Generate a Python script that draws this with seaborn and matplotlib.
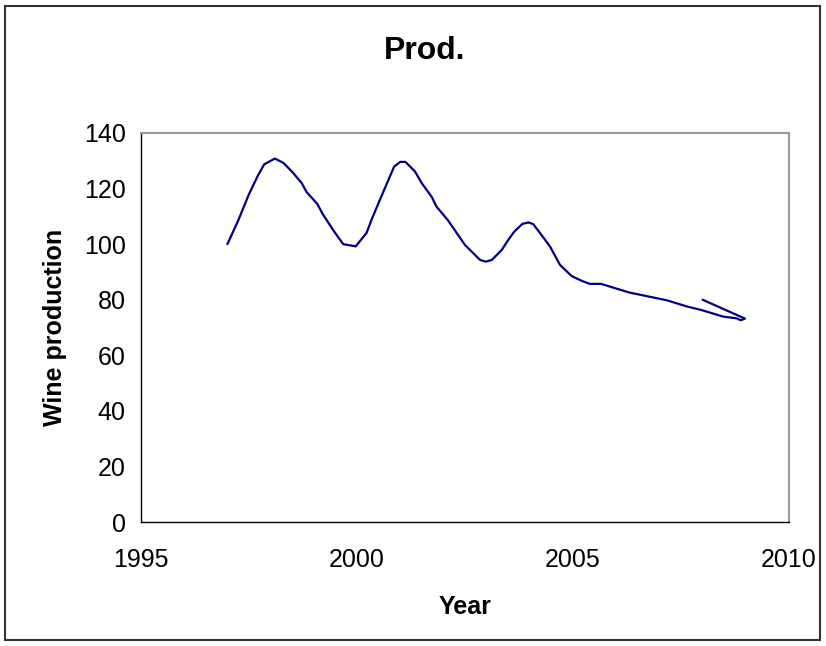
import matplotlib
matplotlib.use("Agg")
import matplotlib.pyplot as plt
import seaborn as sns
import pandas as pd
from matplotlib.patches import Rectangle

years = [1997.0, 1997.25, 1997.5, 1997.7, 1997.85, 1998.1, 1998.3, 1998.5, 1998.72, 1998.83,
         1999.08, 1999.2, 1999.45, 1999.68, 1999.97, 2000.22, 2000.35, 2000.6, 2000.86, 2001.0,
         2001.12, 2001.34, 2001.5, 2001.73, 2001.84, 2002.1, 2002.5, 2002.85, 2002.98, 2003.12,
         2003.35, 2003.5, 2003.64, 2003.83, 2003.97, 2004.08, 2004.27, 2004.47, 2004.7, 2004.97,
         2005.2, 2005.39, 2005.65, 2006.3, 2007.17, 2007.63, 2007.97, 2008.48, 2008.79, 2008.88,
         2008.98, 2008.0]
production = [100, 108.5, 118, 124.5, 128.7, 130.8, 129.2, 126, 122, 118.8,
              114.5, 111, 105, 100, 99.2, 104, 109.3, 118.5, 127.9, 129.6,
              129.6, 126.2, 121.9, 117, 113.5, 108.7, 99.7, 94.3, 93.7, 94.3,
              97.9, 101.5, 104.5, 107.3, 107.8, 107.2, 103.3, 99.1, 92.5, 88.5,
              86.8, 85.7, 85.7, 82.6, 79.8, 77.6, 76.3, 73.9, 73.3, 72.6,
              73.2, 80.0]
x_ticks = [1995, 2000, 2005, 2010]
y_ticks = [0, 20, 40, 60, 80, 100, 120, 140]

df = pd.DataFrame({"Year": years, "Wine production": production})

sns.set_style("white")
plt.rcParams['font.family'] = ['Liberation Sans', 'DejaVu Sans']
plt.rcParams['text.color'] = 'black'
plt.rcParams['axes.labelcolor'] = 'black'
plt.rcParams['xtick.color'] = 'black'
plt.rcParams['ytick.color'] = 'black'

W, H = 826, 646
fig = plt.figure(figsize=(W / 100, H / 100), dpi=100)
ax = fig.add_axes([141 / W, 1 - 522 / H, (789 - 141) / W, (522 - 133) / H])

sns.lineplot(data=df, x="Year", y="Wine production", sort=False, estimator=None,
             color="#000080", linewidth=1.6, ax=ax)

ax.set_xlim(1995, 2010)
ax.set_ylim(0, 140)
ax.set_xticks(x_ticks)
ax.set_yticks(y_ticks)
ax.tick_params(axis="both", direction="out", length=6, width=1, color="black",
               labelcolor="black", labelsize=18)
ax.tick_params(axis="x", pad=13)
ax.tick_params(axis="y", pad=5)
for s in ["left", "bottom"]:
    ax.spines[s].set_color("black")
    ax.spines[s].set_linewidth(1)
for s in ["top", "right"]:
    ax.spines[s].set_color("#999999")
    ax.spines[s].set_linewidth(1.5)
ax.set_xlabel("Year", fontsize=18, fontweight="bold", labelpad=16, color="black")
ax.set_ylabel("Wine production", fontsize=18, fontweight="bold", labelpad=12, color="black")

fig.text(425 / W, 1 - 51 / H, "Prod.", ha="center", va="center", fontsize=23,
         fontweight="bold", color="black")

fig.patches.append(Rectangle((5 / W, 6 / H), (820 - 5) / W, (640 - 6) / H, transform=fig.transFigure,
                             fill=False, edgecolor="#333333", linewidth=1.5))

fig.savefig("out.png", dpi=100, facecolor="white")
